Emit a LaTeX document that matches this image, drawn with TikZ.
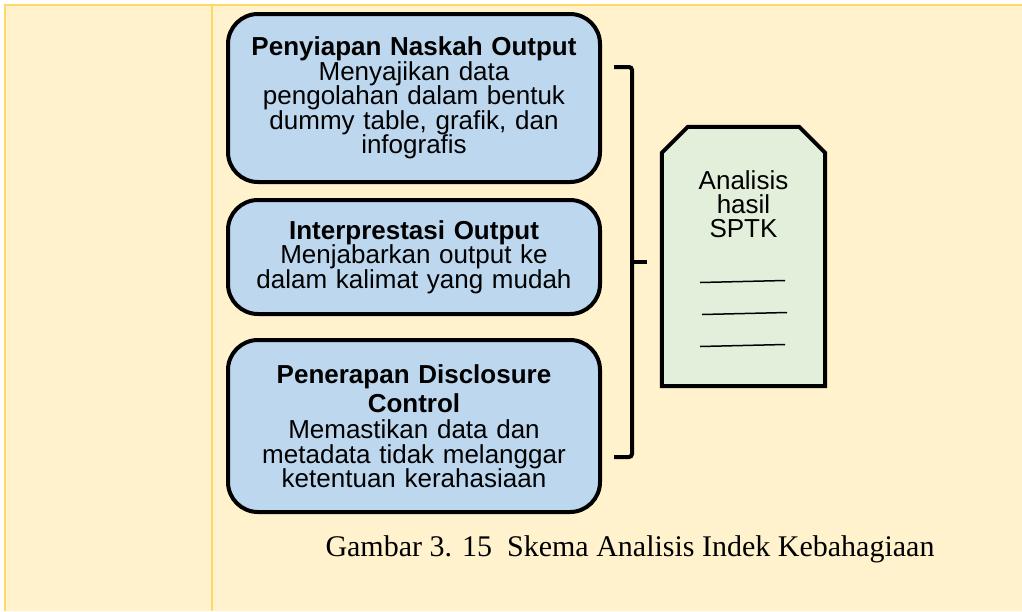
\documentclass[tikz,border=0pt]{standalone}
\usepackage{fontspec}
\setmainfont{Liberation Sans}
\newfontfamily\captionfont{Liberation Serif}
\usepackage{tikz}
\usetikzlibrary{positioning,calc}
\definecolor{boxblue}{HTML}{BDD7EE}
\definecolor{docgreen}{HTML}{E2EFDA}
\definecolor{pageyellow}{HTML}{FFF2CC}
\definecolor{ruleyellow}{HTML}{FFD966}
\tikzset{
  basic/.style  = {draw, line width=4pt, inner sep=0pt, align=center, font=\fontsize{26}{24.5}\selectfont},
  stage/.style  = {basic, rounded corners=30pt, fill=boxblue, minimum width=372pt, text width=360pt},
  docline/.style = {draw, line width=4pt, fill=docgreen, line join=miter},
  bracket/.style = {line width=4pt, rounded corners=3pt},
  tablerule/.style = {draw=ruleyellow, line width=2pt}
}

\begin{document}
\begin{tikzpicture}[x=1pt, y=-1pt]
\useasboundingbox (0,0) rectangle (1022,611);

% page background and table rules
\fill[pageyellow] (5,5) rectangle (1022,611);
\draw[tablerule] (1022,5) -- (5,5) -- (5,611);
\draw[tablerule] (212,5) -- (212,611);

% the three stages, stacked
\node[stage, minimum height=168pt] (box1) at (414,98)
  {\textbf{Penyiapan Naskah Output}\\ Menyajikan data\\ pengolahan dalam bentuk\\ dummy table, grafik, dan\\ infografis};
\node[stage, minimum height=114pt, below=14pt of box1] (box2)
  {\textbf{Interprestasi Output}\\ Menjabarkan output ke\\ dalam kalimat yang mudah};
\node[stage, minimum height=172pt, below=22pt of box2] (box3)
  {\textbf{Penerapan Disclosure}\\[5pt] \textbf{Control}\\[1.5pt] Memastikan data dan\\ metadata tidak melanggar\\ ketentuan kerahasiaan};

% the bracket
\coordinate (brtop) at (614,67);
\coordinate (brbot) at (614,457);
\coordinate (brmid) at (632,262);
\coordinate (brtip) at (647,262);
\draw[bracket] (brtop) -| (brmid) |- (brbot);
\draw[bracket] (brmid) -- (brtip);

% the result document
\node[minimum width=163pt, minimum height=259pt, inner sep=0pt] (doc) at (743.5,256.5) {};
\path[docline] (doc.south west) -- ($(doc.north west)+(0,26)$) -- ($(doc.north west)+(26,0)$)
  -- ($(doc.north east)+(-26,0)$) -- ($(doc.north east)+(0,26)$) -- (doc.south east) -- cycle;
\node[align=center, font=\fontsize{26}{24}\selectfont] (doctext) at ($(doc.north)+(0,77)$)
  {Analisis\\ hasil\\ SPTK};
\draw[line width=1.5pt] ($(doc.center)+(-43.5,26)$) -- ($(doc.center)+(41.5,24)$);
\draw[line width=1.5pt] ($(doc.center)+(-41.5,58)$) -- ($(doc.center)+(43.5,56)$);
\draw[line width=1.5pt] ($(doc.center)+(-43.5,90)$) -- ($(doc.center)+(41.5,88)$);

% caption
\node[font=\captionfont\fontsize{30}{36}\selectfont] (caption) at (630,549)
  {Gambar 3. 15\ \ Skema Analisis Indek Kebahagiaan};
\end{tikzpicture}
\end{document}
